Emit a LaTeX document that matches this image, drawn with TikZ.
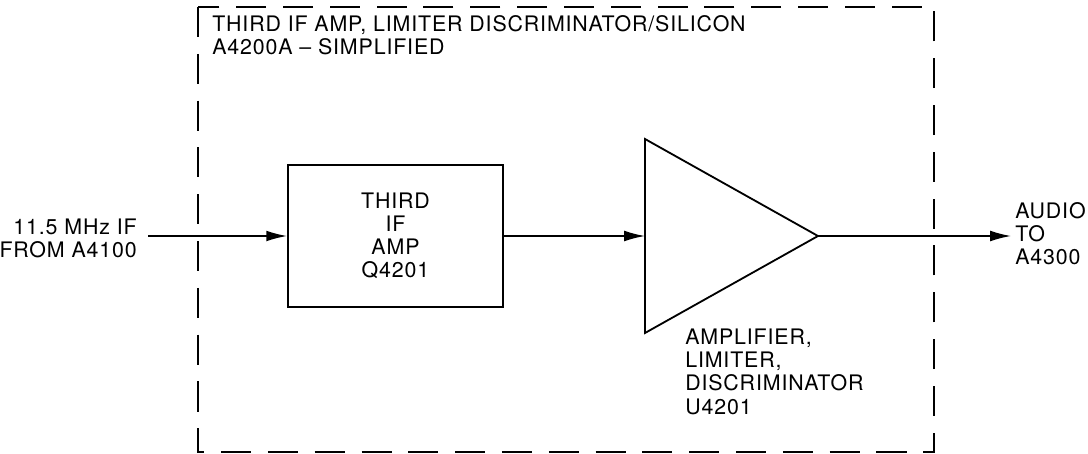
\documentclass[tikz,border=0pt]{standalone}
\usepackage{fontspec}
\setmainfont{TeX Gyre Heros}[LetterSpace=4]
\usetikzlibrary{arrows.meta,positioning}
\tikzset{
  lbl/.style={inner sep=0pt,font=\fontsize{15.2}{16.4}\selectfont},
  blk/.style={rectangle,draw,line width=1.3pt,minimum width=5.375cm,minimum height=3.55cm,align=center,font=\fontsize{15.2}{16.4}\selectfont},
  sig/.style={-{Latex[length=0.52cm,width=0.27cm]},line width=1.1pt},
  frame/.style={draw,line width=1.3pt,dash pattern=on 0.75cm off 0.42cm},
}
\begin{document}
\begin{tikzpicture}[x=0.025cm,y=-0.025cm]
  \useasboundingbox (0,0) rectangle (1088,454);
  % dashed assembly outline
  \draw[frame] (198,7) rectangle (934,452);
  \node[lbl,anchor=north west,align=left] (title) at (212,15) {THIRD IF AMP, LIMITER DISCRIMINATOR/SILICON\\A4200A -- SIMPLIFIED};
  % blocks
  \node[blk] (ifamp) at (395.5,236) {THIRD\\IF\\AMP\\Q4201};
  \coordinate (ampin) at (645,236);
  \coordinate (ampout) at (818,236);
  \draw[line width=1.3pt,line join=miter] (645,139) -- (ampout) -- (645,333) -- cycle;
  \node[lbl,anchor=north west,align=left] (amplbl) at (685,329) {AMPLIFIER,\\LIMITER,\\DISCRIMINATOR\\U4201};
  % input / output
  \coordinate (in) at (148,236);
  \coordinate (out) at (1011,236);
  \node[lbl,anchor=north east,align=right] (inlbl) at (137,219) {11.5 MHz IF\\FROM A4100};
  \node[lbl,anchor=north west,align=left] (outlbl) at (1015,202) {AUDIO\\TO\\A4300};
  \draw[sig] (in) -- (ifamp.west);
  \draw[sig] (ifamp.east) -- (ampin);
  \draw[sig] (ampout) -- (out);
\end{tikzpicture}
\end{document}
